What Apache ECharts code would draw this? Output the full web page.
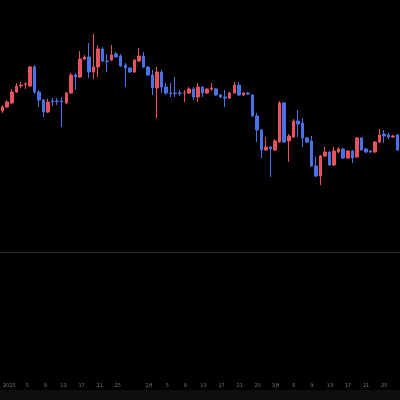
<!DOCTYPE html>
<html>
<head>
<meta charset="utf-8">
<script src="https://cdn.jsdelivr.net/npm/echarts@6/dist/echarts.min.js"></script>
<style>
html,body{margin:0;padding:0;background:#000;}
#c{width:400px;height:400px;}
</style>
</head>
<body>
<div id="c"></div>
<script>
const dates = [
'2024-12-31',
'2025-01-01','2025-01-02','2025-01-03','2025-01-04','2025-01-05','2025-01-06','2025-01-07','2025-01-08','2025-01-09','2025-01-10',
'2025-01-11','2025-01-12','2025-01-13','2025-01-14','2025-01-15','2025-01-16','2025-01-17','2025-01-18','2025-01-19','2025-01-20',
'2025-01-21','2025-01-22','2025-01-23','2025-01-24','2025-01-25','2025-01-26','2025-01-27','2025-01-28','2025-01-29','2025-01-30','2025-01-31',
'2025-02-01','2025-02-02','2025-02-03','2025-02-04','2025-02-05','2025-02-06','2025-02-07','2025-02-08','2025-02-09','2025-02-10',
'2025-02-11','2025-02-12','2025-02-13','2025-02-14','2025-02-15','2025-02-16','2025-02-17','2025-02-18','2025-02-19','2025-02-20',
'2025-02-21','2025-02-22','2025-02-23','2025-02-24','2025-02-25','2025-02-26','2025-02-27','2025-02-28',
'2025-03-01','2025-03-02','2025-03-03','2025-03-04','2025-03-05','2025-03-06','2025-03-07','2025-03-08','2025-03-09','2025-03-10',
'2025-03-11','2025-03-12','2025-03-13','2025-03-14','2025-03-15','2025-03-16','2025-03-17','2025-03-18','2025-03-19','2025-03-20',
'2025-03-21','2025-03-22','2025-03-23','2025-03-24','2025-03-25','2025-03-26','2025-03-27','2025-03-28'
];
const opens  = [141,145,149,160,166,167.5,166,185,160,152,140,151,151,151,149,159,177,175,193,195,180,185,203,191,192,198,196,187,184,180,
                191,196,185,177,164,180,165,159,159,159,159,159,163,155,165,159,163,163,157,155,154,159,167,157,159,157,136,122,102,105,
                102,110,149,111,115,131,129,114,111,86,76,96,100,87,100,103,94,101,95,114,103,101,100,110,118,117,115,117];
const closes = [145,150,160,166,167,168,185,160,152,140,150,150,150.5,150,159,177,175,193,195,180,185,203,191,190.5,197,195,186,184,180,192,
                196,185,177,164,180,165,159,158.5,158.5,158.5,159.3,163,155,165,159,163,164,157,155,154,159,167,157,159,158,136,122,102,105,103,
                111,149,110,116,131,128,114,110,86,76,96,100,87,101,103,94,101,94,114,102,100,100,110,117,116,115,116,102];
const lows   = [139,144,148,159,164,163,165,158,145,135,139,146,147,125,148,158,162,174,192,174,173,175,190,180,191,194,185,165,179,179,
                190,184,176,157,134,159,157,155,155,156,150,158,152,150,155,158,161,156,154,145,153,158,156,156,157,135,110,94,101,75,
                101,109,109,90,114,115,105,109,85,75,67,95,86,86,99,93,93,89,94,101,99,99,99,109,109,113,114,101];
const highs  = [147,152,163,169,170,170,186,187,162,153,153,154,154,155,160,179,179,201,197,209,218,207,205,198,207,200,198,189,185,193,
                204,200,186,182,185,182,169,169,175,162,162,165,165,169,166,164,169,164,158,162,160,170,170,160,160,158,139,123,115,106,
                113,151,150,118,133,142,134,115,116,95,97,105,101,105,105,104,102,102,115,115,104,102,111,123,122,119,117,118];
const labelDays = [1,5,9,13,17,21,25];

const candles = dates.map((d, i) => [opens[i], closes[i], lows[i], highs[i]]);
const UP = '#e8525c', DOWN = '#4a72e8';

const chart = echarts.init(document.getElementById('c'), null, {renderer: 'canvas'});
chart.setOption({
  backgroundColor: '#000',
  animation: false,
  grid: [
    {left: 0.41, top: 0, width: 402.3, height: 252},
    {left: 0.41, top: 253, width: 402.3, height: 125}
  ],
  xAxis: [
    {type: 'category', gridIndex: 0, data: dates, boundaryGap: true,
     axisLine: {show: true, lineStyle: {color: '#2c2c2c', width: 1}},
     axisTick: {show: false}, axisLabel: {show: false}, splitLine: {show: false}},
    {type: 'category', gridIndex: 1, data: dates, boundaryGap: true,
     axisLine: {show: false}, axisTick: {show: false}, splitLine: {show: false},
     axisLabel: {
       show: true, color: '#777777', fontSize: 5, margin: 5,
       fontFamily: 'DejaVu Sans',
       interval: (idx, val) => labelDays.indexOf(+val.slice(8)) >= 0,
       formatter: (val) => {
         const m = +val.slice(5, 7), d = +val.slice(8);
         if (d === 1 && m === 1) return val.slice(0, 4);
         if (d === 1) return m + '月';
         return String(d);
       }
     }}
  ],
  yAxis: [
    {type: 'value', gridIndex: 0, min: 0, max: 252, show: false, splitLine: {show: false}},
    {type: 'value', gridIndex: 1, min: 0, max: 1, show: false, splitLine: {show: false}}
  ],
  graphic: [
    {type: 'rect', left: 0, top: 390, shape: {width: 400, height: 10}, style: {fill: '#0e0e0e'}, silent: true}
  ],
  series: [{
    type: 'candlestick',
    xAxisIndex: 0, yAxisIndex: 0,
    data: candles,
    barWidth: 3,
    itemStyle: {color: UP, color0: DOWN, borderColor: UP, borderColor0: DOWN, borderWidth: 1}
  }]
});
</script>
</body>
</html>
